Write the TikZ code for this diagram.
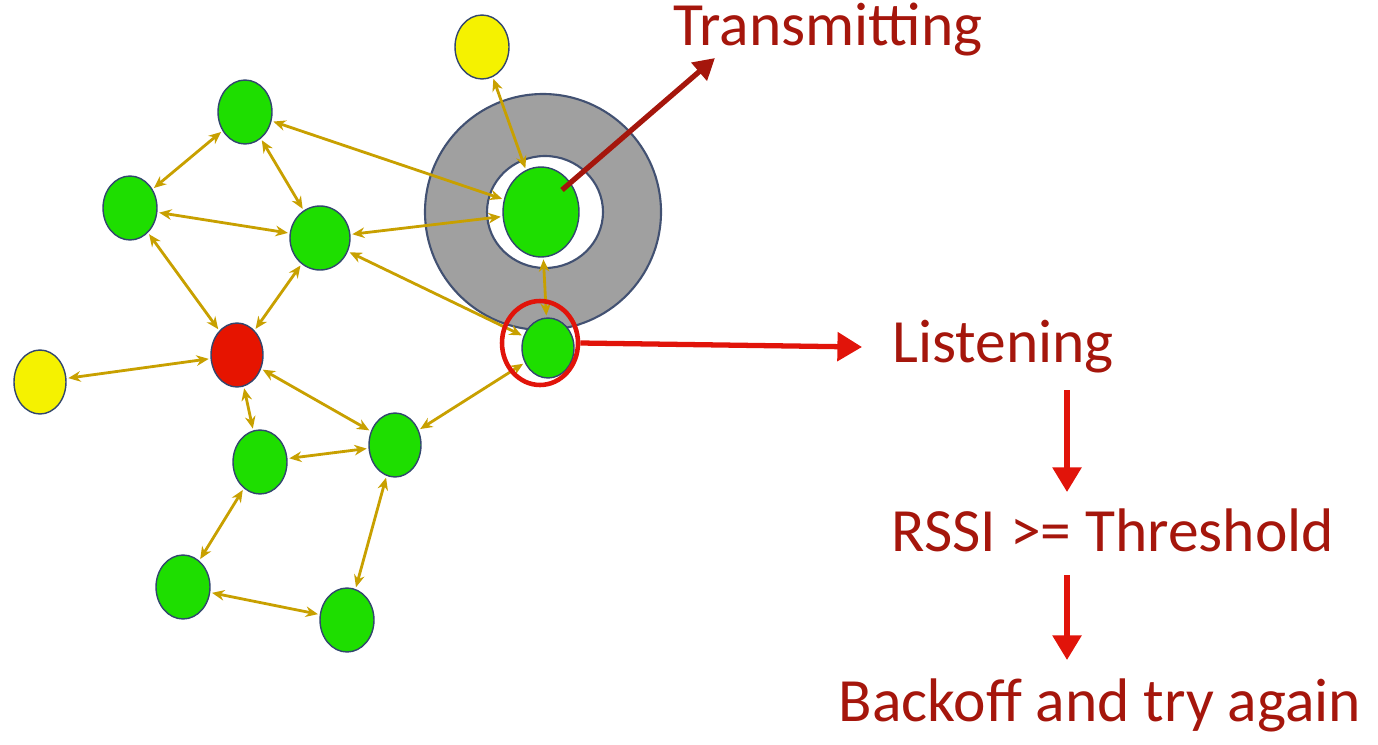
\documentclass[tikz,border=0pt]{standalone}
\usepackage{fontspec}
\setmainfont{Carlito}
\usetikzlibrary{arrows.meta,shapes.geometric}
\definecolor{ng}{RGB}{30,222,0}
\definecolor{ny}{RGB}{245,242,0}
\definecolor{nr}{RGB}{230,20,0}
\definecolor{nb}{RGB}{50,70,110}
\definecolor{ed}{RGB}{200,160,0}
\definecolor{tx}{RGB}{165,22,12}
\definecolor{ar}{RGB}{225,20,10}
\definecolor{ring}{RGB}{160,160,160}
\begin{document}
\begin{tikzpicture}[x=0.02cm,y=-0.02cm,
 e/.style={draw=ed,line width=1.6pt,{Stealth[length=7pt,width=6pt]}-{Stealth[length=7pt,width=6pt]},shorten <=1pt,shorten >=1pt},
 lab/.style={text=tx,font=\fontsize{35pt}{40pt}\selectfont,inner sep=0},
 big/.style={draw=ar,line width=3pt,-{Triangle[length=14pt,width=16pt]}},
 mk/.style args={#1/#2/#3}{draw=nb,line width=0.8pt,fill=#1,ellipse,minimum width=#2*0.04cm,minimum height=#3*0.04cm,inner sep=0}]
\useasboundingbox (0,0) rectangle (1378,744);
% ring
\fill[ring,draw=nb!80!gray,line width=1.2pt] (543,212) circle [radius=118];
\fill[white,draw=nb!80!gray,line width=1.2pt] (545,212) ellipse [x radius=58,y radius=56];
% nodes
\node[mk=ny/27/32] (Y1) at (482,47) {};
\node[mk=ng/27/32] (G1) at (245,112) {};
\node[mk=ng/27/32] (G2) at (130,208) {};
\node[mk=ng/30/32] (G3) at (320,238) {};
\node[mk=ng/38/45] (T) at (541,212) {};
\node[mk=ng/26/30] (L) at (548,348) {};
\node[mk=nr/26/32] (R) at (237,355) {};
\node[mk=ny/26/32] (Y2) at (40,382) {};
\node[mk=ng/26/32] (G4) at (395,445) {};
\node[mk=ng/27/32] (G5) at (260,462) {};
\node[mk=ng/27/32] (G6) at (183,587) {};
\node[mk=ng/27/32] (G7) at (347,620) {};
% edges
\foreach \a/\b in {Y1/T,G1/T,G1/G2,G1/G3,G2/G3,G2/R,G3/R,T/G3,G3/L,T/L,R/Y2,R/G4,R/G5,G4/L,G4/G5,G4/G7,G5/G6,G6/G7}
  \path[e] (\a) -- (\b);
% listening highlight
\node[draw=ar,line width=2.6pt,ellipse,minimum width=1.52cm,minimum height=1.68cm,inner sep=0] (LC) at (540,343) {};
% labels
\node[lab] (tt) at (828,30) {Transmitting};
\node[lab] (ls) at (1003,347) {Listening};
\node[lab] (rs) at (1113,530) {RSSI >= Threshold};
\node[lab] (bo) at (1100,705) {Backoff and try again};
\coordinate (tc) at (562,190);
\coordinate (te) at (715,58);
\coordinate (le) at (862,347);
\coordinate (a1) at (1067,390); \coordinate (a2) at (1067,492);
\coordinate (a3) at (1067,575); \coordinate (a4) at (1067,660);
\draw[draw=tx,line width=3pt,-{Triangle[length=12pt,width=13pt]}] (tc) -- (te);
\draw[big] (LC.east) -- (le);
\draw[big] (a1) -- (a2);
\draw[big] (a3) -- (a4);
\end{tikzpicture}
\end{document}
